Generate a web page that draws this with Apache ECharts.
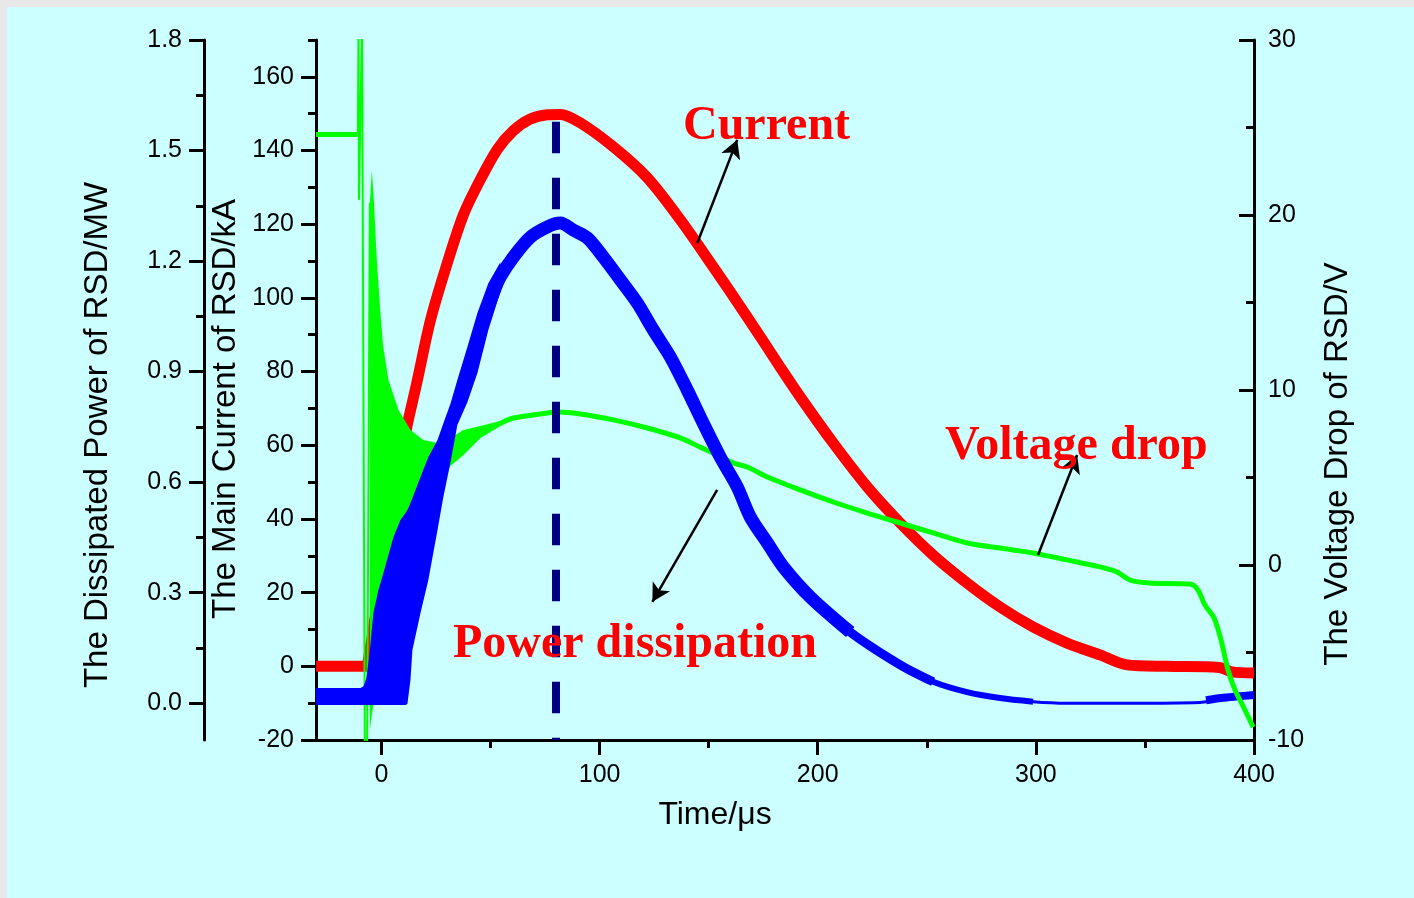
<!DOCTYPE html>
<html>
<head>
<meta charset="utf-8">
<title>RSD current, voltage drop and power</title>
<script src="https://cdn.jsdelivr.net/npm/echarts@6/dist/echarts.min.js"></script>
<style>
  html, body { margin: 0; padding: 0; background: #ccffff; }
  #main { width: 1414px; height: 898px; }
</style>
</head>
<body>
<div id="main"></div>
<script>
// tick positions
const timeMajorTicks = [0, 100, 200, 300, 400];
const timeMinorTicks = [50, 150, 250, 350];
const currentMajorTicks = [-20, 0, 20, 40, 60, 80, 100, 120, 140, 160];
const currentMinorTicks = [-10, 10, 30, 50, 70, 90, 110, 130, 150, 170];
const powerMajorTicks = [0, 0.3, 0.6, 0.9, 1.2, 1.5, 1.8];
const powerMinorTicks = [0.15, 0.45, 0.75, 1.05, 1.35, 1.65];
const voltageMajorTicks = [-10, 0, 10, 20, 30];
const voltageMinorTicks = [-5, 5, 15, 25];

// main current of RSD (kA)
const currentFlatTime = [-30, -6.5];
const currentFlatValue = [0, 0];
const currentTime = [-6.5, -4, 0, 5, 10, 12, 16, 22.5, 30.2, 37.6, 45.4, 53.2, 60.5, 68, 76, 82, 91.2, 106.3, 121.9, 137, 152.1, 167.7, 182.8, 192, 207.1, 222.7, 237.8, 252.9, 268.5, 283.6, 298.7, 314.3, 329.4, 341.8, 360, 384, 390, 400];
const currentValue = [0, 9, 25, 44, 59.5, 66, 76.4, 94, 109.5, 122.6, 132.2, 140.4, 145.4, 148.5, 149.7, 149.8, 147.5, 141, 132.6, 121.2, 108.4, 94.8, 81.2, 73.1, 60.6, 48.7, 38.9, 30.2, 22.6, 16.1, 10.7, 6.3, 3.1, 0.4, 0, -0.3, -1.5, -1.8];

// voltage drop of RSD (V)
const voltageFlatTime = [-30, -10.8];
const voltageFlatValue = [24.6, 24.6];
const voltageSpikeTime = [-10.8, -10.5, -10.3, -8.9, -7.6, -6.6, -5.3];
const voltageSpikeValue = [24.6, 31, 20.9, 31, -11, -11, 20.7];
// ringing envelope right after triggering
const voltageBandTime = [-5.3, -4.4, -3.4, -2.3, -0.9, 0.7, 3.2, 7.8, 13.3, 19.2, 25.7, 31.6, 37.6, 45.4, 54.5, 60.5];
const voltageBandUpper = [20.69, 22.57, 20.69, 17.83, 15.14, 12.57, 10.57, 8.86, 7.71, 7.14, 6.97, 7.26, 7.71, 7.94, 8.23, 8.4];
const voltageBandLower = [-9.43, -8.57, -7.71, -5.71, -4.57, -3.43, -2.29, -0.57, 1.14, 2.86, 4.4, 5.66, 6.29, 7.26, 7.94, 8.4];
const voltageTime = [45.4, 54.5, 60.5, 76.1, 80.6, 91.2, 106.3, 121.9, 137, 146, 152.1, 161.3, 167.7, 176.9, 192, 207.1, 222.7, 237.8, 252.9, 268.5, 283.6, 298.7, 314.3, 329.4, 337.2, 343.2, 352.3, 370.7, 374.3, 377.5, 381.7, 384.9, 388.1, 391.3, 395.4, 399.6];
const voltageValue = [7.6, 8.1, 8.4, 8.69, 8.74, 8.63, 8.29, 7.83, 7.26, 6.74, 6.4, 5.83, 5.6, 5.03, 4.29, 3.6, 2.97, 2.4, 1.83, 1.26, 0.97, 0.69, 0.29, -0.11, -0.4, -0.86, -1.03, -1.09, -1.43, -2.29, -3.03, -4.29, -6.0, -7.14, -8.17, -9.26];

// dissipated power of RSD (MW)
const powerBandTime = [-30, -9.6, -8.2, -6.9, -5.5, -3.7, -1.4, 0.9, 5.5, 8.7, 11.0, 11.9, 13.3, 14.2, 17.9, 21.5, 25.7, 28.4, 31.6, 34.8, 39.4, 44.0, 49.0, 54.5];
const powerBandUpper = [0.041, 0.041, 0.046, 0.068, 0.131, 0.245, 0.307, 0.353, 0.451, 0.497, 0.516, 0.524, 0.543, 0.557, 0.614, 0.668, 0.714, 0.76, 0.812, 0.877, 0.967, 1.059, 1.14, 1.197];
const powerBandLower = [-0.005, -0.005, -0.005, -0.005, -0.005, -0.005, -0.005, -0.005, -0.005, -0.005, -0.005, -0.002, 0.063, 0.144, 0.245, 0.334, 0.47, 0.56, 0.652, 0.755, 0.817, 0.896, 1.013, 1.116];
const powerMainTime = [37.6, 42.2, 46.7, 51.3, 54.5, 60.5, 68.3, 76.1, 82.0, 88.0, 94.4, 101.7, 109.5, 117.3, 124.6, 132.4, 140.2, 147.5, 155.3, 163.1, 169.1, 176.9, 184.2, 196.6, 214.9];
const powerMainValue = [0.866, 0.937, 1.035, 1.113, 1.157, 1.211, 1.265, 1.293, 1.303, 1.284, 1.263, 1.211, 1.149, 1.086, 1.013, 0.94, 0.85, 0.76, 0.668, 0.587, 0.505, 0.435, 0.37, 0.288, 0.193];
const powerMidTime = [184.2, 196.6, 214.9, 237.8, 252.9];
const powerMidValue = [0.37, 0.288, 0.193, 0.104, 0.058];
const powerThinTime = [237.8, 252.9, 268.5, 283.6, 298.7];
const powerThinValue = [0.104, 0.058, 0.03, 0.014, 0.004];
const powerTailTime = [283.6, 298.7, 314.3, 344.6, 375.3, 380];
const powerTailValue = [0.014, 0.004, 0, 0, 0.002, 0.006];
const powerEndTime = [378, 385, 392, 400];
const powerEndValue = [0.008, 0.014, 0.018, 0.022];

// peak marker and arrows
const peakTime = 80;
const peakDash = [147.8, -20];
const currentArrow = [[144.8, 114.9], [163.1, 142.9]];
const voltageArrow = [[301, 0.57], [318.9, 6.29]];
const powerArrow = [[153.9, 0.579], [124.2, 0.275]];

const chart = echarts.init(document.getElementById('main'), null, { renderer: 'canvas' });

const FONT = '"Liberation Sans", Arial, sans-serif';
const SERIF = '"Liberation Serif", "Times New Roman", serif';

function pairs(xs, ys) {
  return xs.map((x, i) => [x, ys[i]]);
}

function lineSeries(xs, ys, yAxisIndex, color, width, z, smooth) {
  return {
    type: 'line',
    xAxisIndex: 0,
    yAxisIndex: yAxisIndex,
    data: pairs(xs, ys),
    symbol: 'none',
    showSymbol: false,
    silent: true,
    smooth: smooth || false,
    z: z,
    lineStyle: { color: color, width: width, join: 'round' }
  };
}

// filled polygon between two envelopes
function bandSeries(xs, upper, lower, yAxisIndex, color, z) {
  const pts = pairs(xs, upper);
  for (let i = xs.length - 1; i >= 0; i--) pts.push([xs[i], lower[i]]);
  return {
    type: 'custom',
    xAxisIndex: 0,
    yAxisIndex: yAxisIndex,
    silent: true,
    z: z,
    data: [[xs[0], upper[0]]],
    renderItem: function (params, api) {
      return {
        type: 'polygon',
        shape: { points: pts.map(p => api.coord(p)) },
        style: { fill: color }
      };
    }
  };
}

function arrowSeries(seg, yAxisIndex) {
  return {
    type: 'line',
    xAxisIndex: 0,
    yAxisIndex: yAxisIndex,
    data: [],
    silent: true,
    z: 8,
    markLine: {
      silent: true,
      z: 8,
      animation: false,
      symbol: ['none', 'arrow'],
      symbolSize: [15, 18],
      label: { show: false },
      lineStyle: { color: '#000', width: 2.5, type: 'solid' },
      emphasis: { disabled: true },
      data: [[{ coord: seg[0] }, { coord: seg[1] }]]
    }
  };
}

function yAxes(min, max, position, offset, majors, minors, inside, fmt, margin) {
  const base = {
    type: 'value', min: min, max: max, position: position, offset: offset,
    splitLine: { show: false }
  };
  return [
    Object.assign({}, base, {
      axisLine: { show: true, onZero: false, lineStyle: { color: '#000', width: 3 } },
      axisTick: { show: true, inside: inside, length: 15, customValues: majors, lineStyle: { color: '#000', width: 3 } },
      axisLabel: { show: true, customValues: majors, formatter: fmt, margin: margin, color: '#000', fontSize: 25, fontFamily: FONT }
    }),
    Object.assign({}, base, {
      axisLine: { show: false, onZero: false },
      axisTick: { show: true, inside: inside, length: 8, customValues: minors, lineStyle: { color: '#000', width: 3 } },
      axisLabel: { show: false }
    })
  ];
}

const intFmt = v => String(Math.round(v));
const oneFmt = v => v.toFixed(1);

const yAxisList = []
  .concat(yAxes(-20, 170, 'left', 0, currentMajorTicks, currentMinorTicks, false, intFmt, 22)) // 0,1
  .concat(yAxes(-0.1, 1.8, 'left', 112, powerMajorTicks, powerMinorTicks, false, oneFmt, 22)) // 2,3
  .concat(yAxes(-10, 30, 'right', 0, voltageMajorTicks, voltageMinorTicks, true, intFmt, 14)); // 4,5

const currentSeries = lineSeries(currentTime, currentValue, 0, '#ff0000', 11, 2, 0.3);
currentSeries.markLine = {
  silent: true,
  z: 6,
  animation: false,
  symbol: ['none', 'none'],
  label: { show: false },
  emphasis: { disabled: true },
  lineStyle: { color: '#000080', width: 8, type: [31.5, 24.5], cap: 'butt' },
  data: [[{ coord: [peakTime, peakDash[0]] }, { coord: [peakTime, peakDash[1]] }]]
};

const option = {
  backgroundColor: '#ccffff',
  animation: false,
  grid: { left: 316, right: 160, top: 40, bottom: 158, containLabel: false, outerBoundsMode: 'none' },
  xAxis: [
    {
      type: 'value', min: -30, max: 400, position: 'bottom',
      splitLine: { show: false },
      axisLine: { show: true, onZero: false, lineStyle: { color: '#000', width: 3 } },
      axisTick: { show: true, length: 15, customValues: timeMajorTicks, lineStyle: { color: '#000', width: 3 } },
      axisLabel: { show: true, customValues: timeMajorTicks, formatter: intFmt, margin: 23, color: '#000', fontSize: 25, fontFamily: FONT }
    },
    {
      type: 'value', min: -30, max: 400, position: 'bottom',
      splitLine: { show: false },
      axisLine: { show: false, onZero: false },
      axisTick: { show: true, length: 8, customValues: timeMinorTicks, lineStyle: { color: '#000', width: 3 } },
      axisLabel: { show: false }
    }
  ],
  yAxis: yAxisList,
  series: [
    lineSeries(currentFlatTime, currentFlatValue, 0, '#ff0000', 11, 2),
    currentSeries,
    bandSeries(voltageBandTime, voltageBandUpper, voltageBandLower, 4, '#00ff00', 3),
    lineSeries(voltageFlatTime, voltageFlatValue, 4, '#00ff00', 5, 3),
    lineSeries(voltageSpikeTime, voltageSpikeValue, 4, '#00ff00', 2, 3),
    lineSeries(voltageTime, voltageValue, 4, '#00ff00', 5, 3, 0.3),
    bandSeries(powerBandTime, powerBandUpper, powerBandLower, 2, '#0000ff', 4),
    lineSeries(powerMainTime, powerMainValue, 2, '#0000ff', 13, 4, 0.3),
    lineSeries(powerMidTime, powerMidValue, 2, '#0000ff', 9, 4, 0.3),
    lineSeries(powerThinTime, powerThinValue, 2, '#0000ff', 6, 4, 0.3),
    lineSeries(powerTailTime, powerTailValue, 2, '#0000ff', 3, 4, 0.3),
    lineSeries(powerEndTime, powerEndValue, 2, '#0000ff', 8, 2, 0.3),
    arrowSeries(currentArrow, 0),
    arrowSeries(voltageArrow, 4),
    arrowSeries(powerArrow, 2)
  ],
  graphic: [
    { type: 'rect', silent: true, z: 100, shape: { x: 0, y: 0, width: 1414, height: 7 }, style: { fill: '#e8e8e8' } },
    { type: 'rect', silent: true, z: 100, shape: { x: 0, y: 0, width: 7, height: 898 }, style: { fill: '#e8e8e8' } },
    { type: 'text', silent: true, z: 100, x: 98, y: 435, rotation: Math.PI / 2,
      style: { text: 'The Dissipated Power of RSD/MW', font: '33px ' + FONT, fill: '#000', align: 'center', verticalAlign: 'middle' } },
    { type: 'text', silent: true, z: 100, x: 226, y: 409, rotation: Math.PI / 2,
      style: { text: 'The Main Current of RSD/kA', font: '33px ' + FONT, fill: '#000', align: 'center', verticalAlign: 'middle' } },
    { type: 'text', silent: true, z: 100, x: 1338, y: 464, rotation: Math.PI / 2,
      style: { text: 'The Voltage Drop of RSD/V', font: '33px ' + FONT, fill: '#000', align: 'center', verticalAlign: 'middle' } },
    { type: 'text', silent: true, z: 100, x: 715, y: 815,
      style: { text: 'Time/\u03bcs', font: '32px ' + FONT, fill: '#000', align: 'center', verticalAlign: 'middle' } },
    { type: 'text', silent: true, z: 100, x: 683, y: 127,
      style: { text: 'Current', font: 'bold 48px ' + SERIF, fill: '#ff0000', align: 'left', verticalAlign: 'middle' } },
    { type: 'text', silent: true, z: 100, x: 945, y: 447,
      style: { text: 'Voltage drop', font: 'bold 48px ' + SERIF, fill: '#ff0000', align: 'left', verticalAlign: 'middle' } },
    { type: 'text', silent: true, z: 100, x: 453, y: 645,
      style: { text: 'Power dissipation', font: 'bold 48px ' + SERIF, fill: '#ff0000', align: 'left', verticalAlign: 'middle' } }
  ]
};

chart.setOption(option);
</script>
</body>
</html>
